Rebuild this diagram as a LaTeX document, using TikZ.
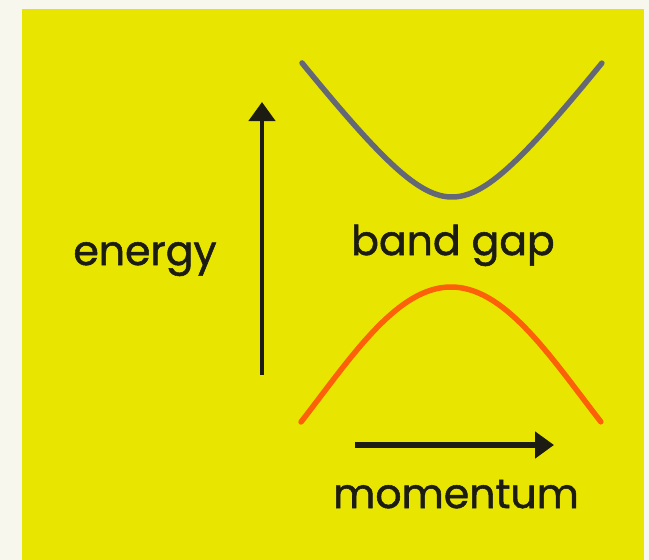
\documentclass[tikz,border=0pt]{standalone}
\usepackage{fontspec}
\setmainfont{Poppins}
\newfontfamily\slidefont{Poppins}[FakeBold=1.3]
\usepackage{xcolor}
\usetikzlibrary{arrows.meta}
\definecolor{paper}{RGB}{248,247,238}
\definecolor{slide}{RGB}{232,230,0}
\definecolor{inkdark}{RGB}{28,28,18}
\definecolor{bandgray}{RGB}{100,104,118}
\definecolor{bandorange}{RGB}{252,96,8}

\begin{document}
\begin{tikzpicture}[>={Triangle[length=19pt,width=26pt]}, trig format=rad, x=1pt, y=-1pt,
    word/.style={font=\slidefont\fontsize{41}{48}\selectfont, text=inkdark, inner sep=0pt, anchor=base},
    band/.style={line width=5.5pt, line cap=round, domain=-1:1, samples=90, smooth, variable=\t}]
  \useasboundingbox (0,0) rectangle (649,560);
  \fill[paper] (0,0) rectangle (649,560);
  \fill[slide] (22,9) rectangle (644,560);
  % axes
  \coordinate (Ebot) at (262,375);
  \coordinate (Etop) at (262,102);
  \draw[->, inkdark, line width=4.5pt] (Ebot) -- (Etop);
  \coordinate (Kleft) at (355,445);
  \coordinate (Kright) at (554,445);
  \draw[->, inkdark, line width=6pt] (Kleft) -- (Kright);
  \node[word] (energy) at (145,265) {energy};
  \node[word] (momentum) at (456,508) {momentum};
  % bands
  \draw[bandgray, band] plot ({452+150*\t},{197-198*(sqrt(0.16+\t*\t)-0.4)});
  \draw[bandorange, band] plot ({451+150*\t},{287+110*(1-cos(1.8*\t))});
  \node[word] (gap) at (453,255) {band gap};
\end{tikzpicture}
\end{document}
